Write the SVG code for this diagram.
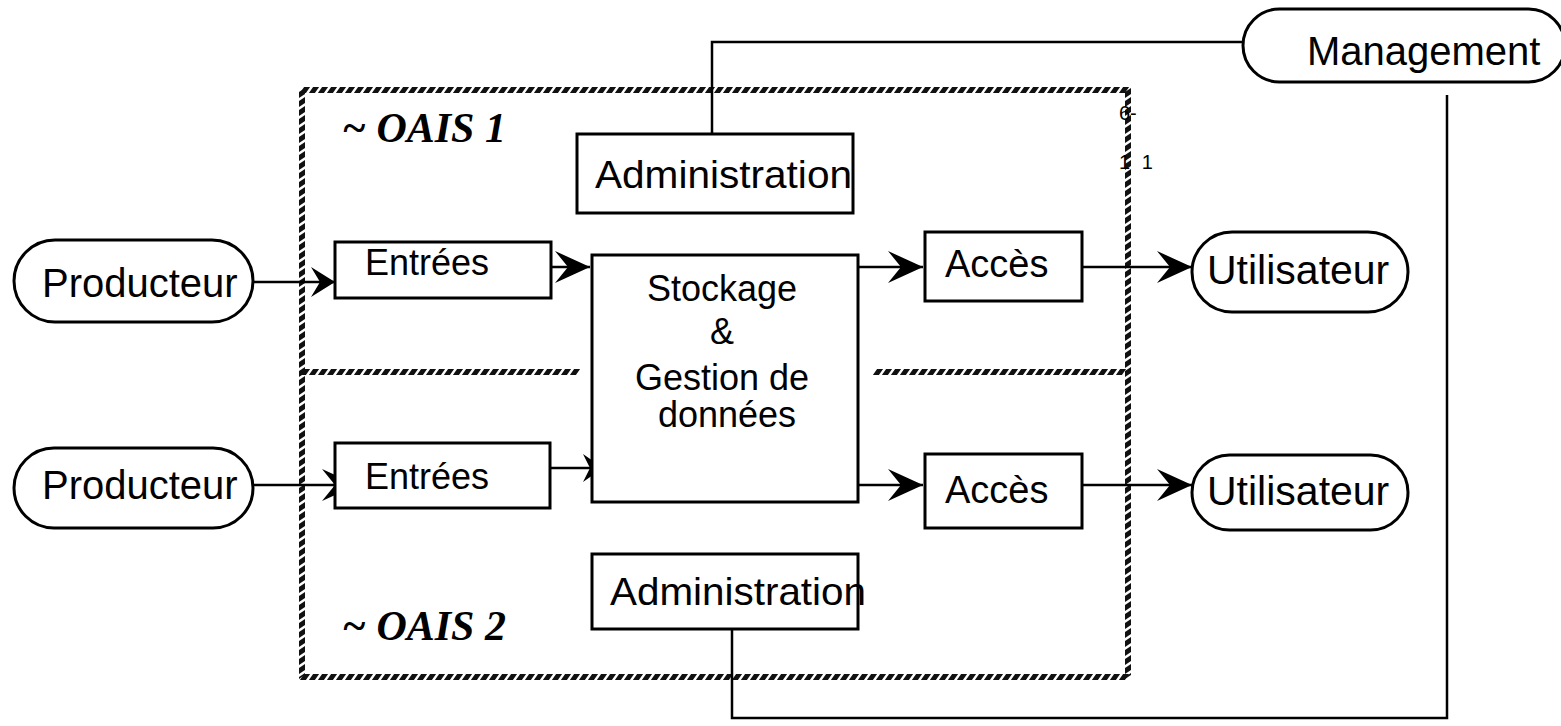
<svg xmlns="http://www.w3.org/2000/svg" width="1561" height="726" viewBox="0 0 1561 726">
<style>
  .box { fill: #fff; stroke: #000; stroke-width: 3; }
  .t { font-family: "Liberation Sans", Arial, sans-serif; fill: #000; }
  .oais { font-family: "Liberation Serif", "Times New Roman", serif; font-weight: bold; font-style: italic; font-size: 42px; fill: #000; }
  .conn { fill: none; stroke: #000; stroke-width: 2.5; }
  .hatch { fill: none; stroke: #111; stroke-width: 6; stroke-dasharray: 6 3; }
  .note { font-family: "Liberation Sans", Arial, sans-serif; font-size: 20px; fill: #000; }
</style>
<defs>
  <marker id="big" markerUnits="userSpaceOnUse" markerWidth="36" markerHeight="32" refX="35" refY="16" orient="auto">
    <path d="M0,0 L35,16 L0,32 L13,16 Z" fill="#000"/>
  </marker>
  <marker id="mid" markerUnits="userSpaceOnUse" markerWidth="26" markerHeight="30" refX="24" refY="15" orient="auto">
    <path d="M0,0 L24,15 L0,30 L9,15 Z" fill="#000"/>
  </marker>
  <marker id="small" markerUnits="userSpaceOnUse" markerWidth="22" markerHeight="28" refX="20" refY="14" orient="auto">
    <path d="M0,0 L20,14 L0,28 L7,14 Z" fill="#000"/>
  </marker>
</defs>
<rect width="1561" height="726" fill="#fff"/>

<g id="oais-frame">
  <g transform="translate(0,90) skewX(-35)"><path class="hatch" d="M302,0 H1128"/></g>
  <g transform="translate(0,677) skewX(-35)"><path class="hatch" d="M302,0 H1128"/></g>
  <g transform="translate(0,372) skewX(-35)"><path class="hatch" d="M302,0 H578 M875,0 H1128"/></g>
  <g transform="translate(302,0) skewY(-35)"><path class="hatch" d="M0,90 V677"/></g>
  <g transform="translate(1128,0) skewY(-35)"><path class="hatch" d="M0,90 V677"/></g>
  <text class="oais" x="342" y="142">~ OAIS 1</text>
  <text class="oais" x="342" y="640">~ OAIS 2</text>
  <text class="note" x="1119" y="120">6-</text>
  <text class="note" x="1119" y="169" word-spacing="6">1 1</text>
</g>

<g id="connectors">
  <path class="conn" d="M253,282 H335" marker-end="url(#mid)"/>
  <path class="conn" d="M551,267 H590" marker-end="url(#big)"/>
  <path class="conn" d="M858,267 H923" marker-end="url(#big)"/>
  <path class="conn" d="M1082,267 H1192" marker-end="url(#big)"/>
  <path class="conn" d="M253,485 H357" marker-end="url(#big)"/>
  <path class="conn" d="M550,468 H603" marker-end="url(#small)"/>
  <path class="conn" d="M858,485 H923" marker-end="url(#big)"/>
  <path class="conn" d="M1082,485 H1192" marker-end="url(#big)"/>
  <path class="conn" d="M1243,42 H712 V134"/>
  <path class="conn" d="M732,629 V718 H1447 V95"/>
</g>

<g id="management">
  <rect class="box" x="1243" y="9" width="322" height="73" rx="36.5" stroke-width="2.5"/>
  <text class="t" x="1307" y="65" font-size="40">Management</text>
</g>

<g id="admin1">
  <rect class="box" x="577" y="134" width="276" height="79"/>
  <text class="t" x="595" y="188" font-size="39" textLength="257" lengthAdjust="spacingAndGlyphs">Administration</text>
</g>

<g id="admin2">
  <rect class="box" x="592" y="554" width="266" height="75"/>
  <text class="t" x="610" y="605" font-size="39" textLength="256" lengthAdjust="spacingAndGlyphs">Administration</text>
</g>

<g id="producteur1">
  <rect class="box" x="14" y="240" width="239" height="82" rx="41" stroke-width="2.5"/>
  <text class="t" x="42" y="297" font-size="40">Producteur</text>
</g>

<g id="producteur2">
  <rect class="box" x="14" y="448" width="239" height="80" rx="40" stroke-width="2.5"/>
  <text class="t" x="42" y="499" font-size="40">Producteur</text>
</g>

<g id="entrees1">
  <rect class="box" x="335" y="242" width="216" height="56"/>
  <text class="t" x="365" y="275" font-size="36">Entrées</text>
</g>

<g id="entrees2">
  <rect class="box" x="335" y="443" width="215" height="65"/>
  <text class="t" x="365" y="489" font-size="36">Entrées</text>
</g>

<g id="stockage">
  <rect class="box" x="592" y="255" width="266" height="247"/>
  <text class="t" text-anchor="middle" font-size="36">
    <tspan x="727" y="301">Stockage</tspan>
    <tspan x="727" y="344">&amp;</tspan>
    <tspan x="727" y="390">Gestion de</tspan>
    <tspan x="727" y="427">données</tspan>
  </text>
</g>

<g id="acces1">
  <rect class="box" x="925" y="232" width="157" height="69"/>
  <text class="t" x="945" y="277" font-size="38">Accès</text>
</g>

<g id="acces2">
  <rect class="box" x="925" y="454" width="157" height="74"/>
  <text class="t" x="945" y="503" font-size="38">Accès</text>
</g>

<g id="utilisateur1">
  <rect class="box" x="1192" y="232" width="216" height="80" rx="40" stroke-width="2.5"/>
  <text class="t" x="1207" y="284" font-size="41">Utilisateur</text>
</g>

<g id="utilisateur2">
  <rect class="box" x="1192" y="455" width="216" height="75" rx="37.5" stroke-width="2.5"/>
  <text class="t" x="1207" y="505" font-size="41">Utilisateur</text>
</g>
</svg>
